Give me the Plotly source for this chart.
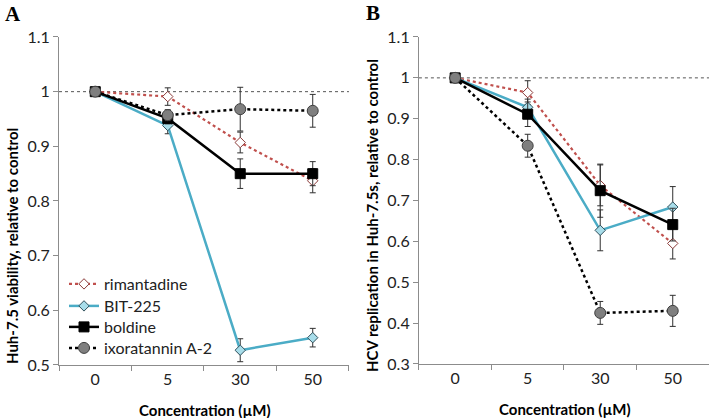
import plotly.graph_objects as go
from plotly.subplots import make_subplots

categories = ["0", "5", "30", "50"]
series_names = ["rimantadine", "BIT-225", "boldine", "ixoratannin A-2"]

# Panel A: Huh-7.5 viability
a_rimantadine = [1.0, 0.991, 0.907, 0.837]
a_rimantadine_err = [0.0, 0.016, 0.019, 0.022]
a_bit225 = [1.0, 0.938, 0.527, 0.550]
a_bit225_err = [0.0, 0.015, 0.021, 0.017]
a_boldine = [1.0, 0.951, 0.850, 0.850]
a_boldine_err = [0.0, 0.010, 0.027, 0.022]
a_ixoratannin = [1.0, 0.957, 0.968, 0.965]
a_ixoratannin_err = [0.0, 0.010, 0.040, 0.030]

# Panel B: HCV replication
b_rimantadine = [1.0, 0.964, 0.737, 0.595]
b_rimantadine_err = [0.0, 0.029, 0.050, 0.038]
b_bit225 = [1.0, 0.928, 0.627, 0.684]
b_bit225_err = [0.0, 0.020, 0.050, 0.050]
b_boldine = [1.0, 0.911, 0.724, 0.641]
b_boldine_err = [0.0, 0.030, 0.065, 0.040]
b_ixoratannin = [1.0, 0.834, 0.425, 0.430]
b_ixoratannin_err = [0.0, 0.028, 0.028, 0.038]

FONT = "Lato"
styles = {
    "rimantadine": dict(line=dict(color="#C0504D", width=2.2, dash="dot"),
                        marker=dict(symbol="diamond", size=8, color="white",
                                    line=dict(color="#8B3A38", width=1))),
    "BIT-225": dict(line=dict(color="#4BACC6", width=2.5, dash="solid"),
                    marker=dict(symbol="diamond", size=8, color="#A8DDEA",
                                line=dict(color="#2F4F5A", width=1))),
    "boldine": dict(line=dict(color="black", width=2.5, dash="solid"),
                    marker=dict(symbol="square", size=10, color="black",
                                line=dict(color="black", width=1))),
    "ixoratannin A-2": dict(line=dict(color="black", width=2.5, dash="dot"),
                            marker=dict(symbol="circle", size=11, color="#7F7F7F",
                                        line=dict(color="#404040", width=1))),
}
legend_ids = ["legend", "legend2", "legend3", "legend4"]
legend_rows_px = [284, 306, 327, 348]

fig = make_subplots(rows=1, cols=2, horizontal_spacing=0.0986)

panel_a = [(a_rimantadine, a_rimantadine_err), (a_bit225, a_bit225_err),
           (a_boldine, a_boldine_err), (a_ixoratannin, a_ixoratannin_err)]
panel_b = [(b_rimantadine, b_rimantadine_err), (b_bit225, b_bit225_err),
           (b_boldine, b_boldine_err), (b_ixoratannin, b_ixoratannin_err)]

for col, panel in ((1, panel_a), (2, panel_b)):
    for i, (name, (vals, errs)) in enumerate(zip(series_names, panel)):
        st = styles[name]
        fig.add_trace(go.Scatter(
            x=categories, y=vals, name=name, mode="lines+markers",
            line=st["line"], marker=st["marker"],
            error_y=dict(type="data", array=errs, visible=True,
                         color="#303030", thickness=1, width=3),
            showlegend=(col == 1), legend=legend_ids[i],
        ), row=1, col=col)

axis_common = dict(showline=True, linecolor="#8C8C8C", linewidth=1,
                   ticks="outside", tickcolor="#8C8C8C", ticklen=5,
                   showgrid=False, zeroline=False, automargin=False,
                   tickfont=dict(family=FONT, size=16, color="#222222"))

fig.update_xaxes(type="category", range=[-0.5, 3.5], tickson="boundaries",
                 **axis_common)
fig.update_xaxes(domain=[0.0831, 0.4915], row=1, col=1)
fig.update_xaxes(domain=[0.590, 0.9986], row=1, col=2)
fig.update_yaxes(**axis_common)
fig.update_yaxes(range=[0.5, 1.1], tickvals=[0.5, 0.6, 0.7, 0.8, 0.9, 1.0, 1.1],
                 ticktext=["0.5", "0.6", "0.7", "0.8", "0.9", "1", "1.1"],
                 domain=[0.1268, 0.9115], row=1, col=1)
fig.update_yaxes(range=[0.3, 1.1], tickvals=[0.3, 0.4, 0.5, 0.6, 0.7, 0.8, 0.9, 1.0, 1.1],
                 ticktext=["0.3", "0.4", "0.5", "0.6", "0.7", "0.8", "0.9", "1", "1.1"],
                 domain=[0.1292, 0.9115], row=1, col=2)

for xr, yr in (("x", "y"), ("x2", "y2")):
    fig.add_shape(type="line", xref=xr + " domain", yref=yr, x0=0, x1=1,
                  y0=1, y1=1, line=dict(color="#555555", width=1, dash="dot"),
                  layer="below")

ann = [
    dict(text="<b>A</b>", x=3 / 710, y=1 - 14 / 418, xanchor="left", yanchor="middle",
         font=dict(family="Liberation Serif", size=21, color="black")),
    dict(text="<b>B</b>", x=364 / 710, y=1 - 13 / 418, xanchor="left", yanchor="middle",
         font=dict(family="Liberation Serif", size=21, color="black")),
    dict(text="<b>Huh-7.5 viability, relative to control</b>", x=12 / 710, y=1 - 246 / 418,
         textangle=-90, xanchor="center", yanchor="middle",
         font=dict(family=FONT, size=15, color="black")),
    dict(text="<b>HCV replication in Huh-7.5s, relative to control</b>", x=372 / 710,
         y=1 - 216 / 418, textangle=-90, xanchor="center", yanchor="middle",
         font=dict(family=FONT, size=15, color="black")),
    dict(text="<b>Concentration (µM)</b>", x=205 / 710, y=1 - 410 / 418,
         xanchor="center", yanchor="middle", font=dict(family=FONT, size=15, color="black")),
    dict(text="<b>Concentration (µM)</b>", x=565 / 710, y=1 - 409 / 418,
         xanchor="center", yanchor="middle", font=dict(family=FONT, size=15, color="black")),
]
for a in ann:
    a.update(xref="paper", yref="paper", showarrow=False)
fig.update_layout(annotations=ann)

legend_layout = {}
for lid, ypx in zip(legend_ids, legend_rows_px):
    legend_layout[lid] = dict(x=64 / 710, y=1 - ypx / 418, xanchor="left", yanchor="middle",
                              bgcolor="rgba(0,0,0,0)", itemwidth=30,
                              font=dict(family=FONT, size=16, color="#222222"))

fig.update_layout(
    width=710, height=418,
    margin=dict(l=0, r=0, t=0, b=0, autoexpand=False),
    paper_bgcolor="white", plot_bgcolor="white",
    font=dict(family=FONT, size=14, color="#222222"),
    **legend_layout,
)

fig.write_html("out.html", config={"displayModeBar": False},
               post_script="document.body.style.margin='0';document.body.style.padding='0';"
                           "document.documentElement.style.overflow='hidden';")
